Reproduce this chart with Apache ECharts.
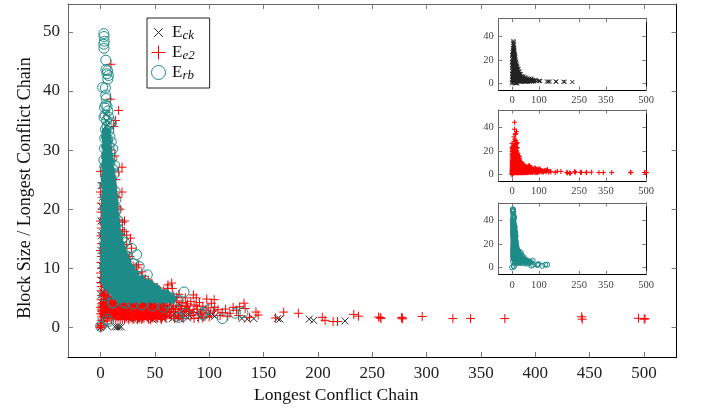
<!DOCTYPE html>
<html><head><meta charset="utf-8">
<style>html,body{margin:0;background:#fff}#c{width:710px;height:409px}</style>
<script src="https://cdn.jsdelivr.net/npm/echarts@6/dist/echarts.min.js"></script>
</head><body><div id="c"></div>
<script>
const mainXTicks=[0,50,100,150,200,250,300,350,400,450,500];
const mainYTicks=[0,10,20,30,40,50];
const insetXTicks=[0,100,250,350,500];
const insetYTicks=[0,20,40];
const xTitle='Longest Conflict Chain';
const yTitle='Block Size / Longest Conflict Chain';

const eck=[[5,36],[5.6,35],[4.6,34],[6.4,33],[5.2,32],[6.8,31],[4,30],[7.4,29],[5,28.5],[8,27.5],[3.6,27],[6.2,26],[9,25],[3,25],[5,24.5],[7.5,23.5],[10,23],[0.5,24],[4.4,22],[6.5,21.5],[9,21],[12,20],[0.6,20.5],[4,19.5],[7,19],[10,18.5],[14,17.5],[0.4,18],[3.5,17],[6,16.8],[9.5,16],[13,15.5],[17,14.5],[0.5,15.5],[3,14.5],[6,14],[10,13.8],[14,13],[19,12.2],[0.4,13],[3.5,12],[7,11.8],[11,11.2],[16,10.8],[22,10],[0.6,10.5],[4,9.5],[8,9.2],[13,8.8],[19,8.2],[26,7.8],[0.5,8],[3,7],[7,6.8],[12,6.5],[18,6.2],[24,5.8],[32,5.5],[40,5],[0.4,5.5],[5,4.8],[10,4.5],[16,4.2],[22,4],[29,3.8],[36,3.6],[44,3.5],[52,3.2],[60,3],[68,3],[76,2.8],[84,2.6],[0.5,3.2],[4,2.4],[9,2.2],[14,2],[20,1.8],[26,1.6],[32,1.5],[38,2.2],[46,1.8],[54,1.6],[62,2],[70,1.7],[78,2],[88,2.4],[0.6,1],[0,0],[6,0.2],[13,0.1],[15,0.1],[17,0.1],[19,0.1],[24,2.4],[28,1.4],[33,1.6],[36,1.4],[41,1.5],[44,1.9],[48,1.3],[50,1.5],[58,1.4],[66,1.5],[73,1.5],[80,1.6],[92,1.7],[100,2],[103,2.2],[105,1.9],[130,1.5],[135,1.4],[141,1.5],[163,1.5],[165,1.4],[192,1.4],[196,1.2],[225,1.1],
[6,30],[4,28],[7,28],[3,26],[5,26],[8,26],[2,24],[6,24],[8,24],[11,24],[2,22],[6,22],[9,22],[12,22],[3,20],[6,20],[9,20],[13,20],[2,18],[5,18],[8,18],[12,18],[15,18],[2,16],[5,16],[8,16],[11,16],[15,16],[18,16],[2,14],[5,14],[8,14],[12,14],[16,14],[20,14],[2,12],[5,12],[9,12],[13,12],[17,12],[21,12],[24,12],[2,10],[6,10],[10,10],[14,10],[18,10],[24,10],[28,10],[2,8],[6,8],[10,8],[15,8],[20,8],[24,8],[29,8],[33,8],[2,6],[6,6],[10,6],[14,6],[20,6],[26,6],[30,6],[36,6],[42,6],[3,5],[8,5],[13,5],[19,5],[26,5],[34,5],[38,5],[46,5],[52,5],[2,4],[7,4],[13,4],[19,4],[26,4],[33,4],[40,4],[48,4],[56,4],[64,4],[72,4],[3,3],[7,3],[12,3],[18,3],[24,3],[32,3],[40,3],[48,3],[56,3],[64,3],[72,3],[80,3],[3,2],[7,2],[12,2],[18,2],[24,2],[30,2],[36,2],[42,2],[50,2],[58,2],[66,2],[74,2],[82,2]];

const ee2=[[9.5,44.5],[9,38.6],[16.6,36.7],[13.6,35],[12,34],[7,32],[10,30],[13,29],[8,28],[19.7,27.1],[16.6,26.3],[0,26.4],[14,25],[5,25],[11,24],[19.7,22.9],[0,22.9],[16,22],[1,21],[18,20],[0.5,19.5],[14,19],[22,18],[0,18],[1,16.8],[20,16.5],[0.4,15.5],[24,15.6],[27.6,15.1],[1,14.2],[17,14],[28.5,13.4],[0,13],[22,12.8],[1,12],[26,11.6],[0.3,11],[35,10.6],[30,10.4],[1.2,10],[0,9.2],[33,9.2],[38,8.6],[1,8.4],[44,8],[0.2,7.6],[47,7.4],[65.4,7.5],[62,7.2],[1,6.9],[52,6.8],[61.4,6.6],[66,6.6],[58,6.2],[0.5,6.2],[3,5.6],[3.4,5.5],[3.8,5.4],[2.6,5.3],[1,5.4],[50,6.6],[50.6,6.5],[49.5,6.4],[62,5.7],[72,5.6],[85.4,5.5],[67,5.2],[78,5],[88,5],[97.7,4.8],[104.5,4.7],[0.5,4.7],[5,4.6],[9,4.4],[13,4.6],[17,4.4],[21,4.5],[25,4.4],[29,4.6],[33,4.3],[37,4.4],[41,4.5],[45,4.2],[49,4.4],[53,4.6],[57,4.3],[61,4.5],[65,4.3],[70,4.5],[75,4.2],[83,4.4],[91,4.2],[102,4.1],[132,4.1],[1,4],[3,3.9],[7,4],[11,3.8],[15,4],[19,3.8],[23,3.9],[27,4],[31,3.8],[35,3.9],[39,3.7],[43,3.9],[47,3.7],[51,3.8],[55,3.9],[59,3.7],[63,3.8],[67,3.6],[72,3.7],[79,3.6],[86,3.8],[94,3.6],[105,3.4],[122,3.4],[133,3.2],[128,3.5],[0,3.4],[2,3.4],[5,3.3],[9,3.4],[13,3.2],[17,3.4],[21,3.2],[25,3.4],[29,3.2],[33,3.4],[37,3.1],[41,3.3],[45,3.1],[49,3.3],[53,3.1],[57,3.3],[61,3.1],[65,3.2],[69,3],[74,3.2],[81,3],[89,3.1],[97,2.9],[108,3],[115,3.1],[125,2.9],[1,2.8],[3,2.9],[7,2.8],[11,2.9],[15,2.7],[19,2.8],[23,2.6],[27,2.8],[31,2.6],[35,2.8],[39,2.6],[43,2.8],[47,2.6],[51,2.7],[55,2.5],[59,2.7],[63,2.5],[67,2.7],[72,2.5],[77,2.7],[85,2.5],[92,2.6],[101,2.4],[112,2.5],[119,2.4],[143,2.6],[0,2.3],[2,2.3],[5,2.3],[9,2.2],[13,2.3],[17,2.1],[21,2.3],[25,2.1],[29,2.2],[33,2],[37,2.2],[41,2],[45,2.2],[49,2],[53,2.2],[57,2],[61,2.1],[65,1.9],[69,2.1],[75,1.9],[83,2],[90,2.1],[96,1.9],[110,2],[117,1.9],[127,2],[145,2.1],[1,1.8],[4,1.7],[8,1.8],[12,1.6],[16,1.7],[20,1.5],[24,1.7],[28,1.6],[32,1.7],[36,1.5],[40,1.6],[44,1.4],[48,1.6],[52,1.5],[60,1.6],[68,1.5],[86,1.5],[94,1.6],[137,1.7],[161,1.6],[168.5,2.6],[182,2.4],[204,1.7],[206.6,1.2],[214,1],[218,1],[233,2.2],[237.4,1.9],[255.9,1.75],[257.4,1.7],[258,1.5],[277.4,1.7],[278,1.45],[277,1.6],[296,1.85],[324.2,1.5],[340.5,1.5],[372,1.5],[442.7,1.8],[443.3,1.4],[495,1.55],[500.3,1.4],[501,1.5],[0,0],[0.4,0.1],[-0.3,0.3],[0.2,-0.1],[1,1.2],[0.5,0.7],[3,1],[6,1.1],
[3,24],[8,24.4],[12,23.6],[2,22],[6,22.4],[10,21.7],[14,22.2],[2,20],[6,20.3],[10,19.8],[15,20.4],[3,18],[7,18.3],[11,17.7],[16,18.2],[20,17.8],[2,16],[6,16.4],[10,15.8],[14,16.2],[18,15.7],[22,16.2],[3,14],[7,14.4],[11,13.8],[15,14.2],[19,13.7],[24,14],[2,12],[6,12.3],[10,11.8],[14,12.2],[18,11.7],[22,12.1],[27,12],[3,10],[7,10.3],[11,9.8],[15,10.2],[19,9.8],[23,10.1],[28,9.9],[33,10.2],[5,9],[9,9.2],[13,8.8],[17,9.1],[21,8.8],[25,9.2],[29,8.9],[34,9.1],[38,9.4],[3,8],[7,8.2],[11,7.8],[15,8.1],[19,7.8],[23,8.2],[27,7.9],[31,8.1],[36,7.8],[41,8.2],[5,7],[9,7.2],[13,6.8],[17,7.1],[21,6.8],[25,7.2],[29,6.9],[33,7.1],[37,6.8],[42,7.1],[46,6.9],[3,6],[7,6.2],[11,5.8],[15,6.1],[19,5.8],[23,6.2],[27,5.9],[31,6.1],[35,5.8],[39,6.1],[44,5.9],[49,6],[55,5.9],[6,5.2],[10,5.3],[14,5],[18,5.2],[22,5],[26,5.3],[30,5.1],[34,5.2],[38,5],[42,5.3],[46,5],[51,5.2],[56,5],[60,5.2],[65,5],[70,5.1],
[2,4.2],[6,4.25],[10,4.1],[14,4.25],[18,4.1],[22,4.2],[26,4.15],[30,4.1],[34,4.2],[38,4.1],[42,4.25],[46,4.1],[50,4.15],[54,4.2],[58,4.1],[3,3.65],[7,3.6],[11,3.45],[15,3.65],[19,3.5],[23,3.65],[27,3.55],[31,3.6],[35,3.5],[39,3.6],[43,3.45],[47,3.55],[51,3.5],[55,3.6],[59,3.45],[1,3.1],[4,3.1],[8,3.15],[12,3],[16,3.15],[20,3],[24,3.1],[28,3],[32,3.15],[36,2.95],[40,3.1],[44,2.95],[48,3.1],[52,2.95],[56,3.1],[60,2.9],[2,2.6],[6,2.6],[10,2.5],[14,2.55],[18,2.5],[22,2.4],[26,2.5],[30,2.45],[34,2.4],[38,2.45],[42,2.4],[46,2.5],[50,2.4],[54,2.45],[58,2.4],[3,2.1],[7,2.05],[11,2],[15,2.05],[19,2],[23,1.95],[27,1.95],[31,1.9],[35,1.8],[39,1.85],[43,1.75],[47,1.85],[51,1.8],[55,1.75],[59,1.8],[6,1.5],[10,1.45],[14,1.4],[18,1.3],[22,1.35],[26,1.3],[30,1.35],[34,1.3],[38,1.35],[46,1.3],[56,1.35],[71,1.8],[74,3.6],[78,3.1],[82,2.8],[88,3.6],[93,2.4],[99,3.3],[104,2.8],[80,4],[76,1.5],[90,1.6],[100,1.8]];

const erbRings=[[3,49.7],[3.2,49.2],[3.4,48.4],[2.9,47.9],[3.1,47.2],[4.8,45.2],[4.9,43.6],[6.4,43.4],[5.8,42.9],[7.2,42.6],[6.6,42],[1.9,40.6],[4.4,40.5],[4.7,39.3],[5.2,38.7],[4.6,37.6],[5.9,37.4],[3.6,37.2],[6.8,36.6],[4.1,35.9],[7.3,35.6],[3.2,35.5],[5.5,35],[10,34.6],[8.4,34.3],[6,34],[4.4,33.5],[7.5,33.2],[8.6,32.3],[3.8,32],[6.4,31.6],[9.8,31.4],[7.8,30.6],[11.2,30.2],[3.6,30.3],[9,29.6],[10.4,28.6],[3,28.3],[8.6,27.8],[13,27.4],[3.8,27.2],[11,26.8],[12.6,26],[13.4,23],[14,21.6],[15,20],[16.4,18],[17.6,16.4],[20,15],[22,14.4],[28.5,13.4],[33.2,12.3],[25,12],[35.5,10.3],[30,10.8],[43,8.9],[40,8],[50,6.6],[53,6],[61,4.1],[66,5],[71.5,4.5],[76.8,6],[58,3.4],[48,3.6],[38,3.8],[30,4],[23,4.1],[21,4.3],[10.6,4.1],[12,4.2],[3.4,5.4],[6.2,1.4],[7,1],[0,0.2],[72,1.7],[78,2.4],[94,2.2],[95,2.6],[99.2,3],[112,1.5],[124,2.4],[131,2.5]];

const erbDense=[[5.4,33],[5,32.2],[6,31.4],[5.2,30.6],[6.2,29.8],[5,29],[7,29],[5.6,28.2],[8,28.2],[4.8,27.4],[7.4,27.4],[5.4,26.6],[8.6,26.6],[5,25.8],[9,25.8],[4.6,25],[8,25],[10,25],[4.6,24],[8,24],[10.4,24],[5.2,23],[9,23],[11,23],[4.4,22],[7.6,22],[11.4,22],[5,21],[9,21],[12,21],[4.2,20],[8,20],[12.4,20],[4.8,19],[9,19],[13,19],[4,18],[8,18],[12,18],[13.6,18],[4.6,17],[9,17],[14,17],[3.8,16],[8,16],[12,16],[15,16],[4.4,15],[9,15],[13,15],[16.4,15],[3.6,14],[8,14],[12,14],[16,14],[18,14],[4.2,13],[9,13],[14,13],[19.5,13],[3.6,12],[8,12],[13,12],[18,12],[22,12],[4,11],[9,11],[14,11],[19,11],[24,11],[3.6,10],[8,10],[13,10],[18,10],[23,10],[27,10],[4.4,9],[10,9],[16,9],[22,9],[27,9],[31,9],[4,8],[9,8],[15,8],[21,8],[27,8],[32,8],[37,8],[6,7.2],[12,7.2],[18,7.2],[24,7.2],[30,7.2],[36,7.2],[41,7.2],[45,7.2],[11,6.4],[17,6.4],[23,6.4],[29,6.4],[35,6.4],[41,6.4],[46,6.4],[51,6.4],[14,5.6],[20,5.6],[26,5.6],[32,5.6],[38,5.6],[44,5.6],[50,5.6],[56,5.6],[60,5.6],[18,4.9],[24,4.9],[30,4.9],[36,4.9],[42,4.9],[48,4.9],[54,4.9],[60,4.9],[65,4.9]];

const INK='#2b2b2b',RED='#ff0000',TEAL='#1d8c88';
const CROSS='path://M0 0L10 10M10 0L0 10',PLUS='path://M5 0L5 10M0 5L10 5';
const LEGEND_CROSS='path://M0 0L0 0M3 3L13 13M13 3L3 13M16 16L16 16';
const SERIF='"Liberation Serif",serif';
const stroke=(c,w)=>({color:'transparent',borderColor:c,borderWidth:w,opacity:1});

const grids=[
 {left:68,top:4,width:608.5,height:353,x:[-30,530],y:[-5,54.7],xt:mainXTicks,yt:mainYTicks,main:true},
 {left:498.7,top:18.7,width:147.3,height:71.3,x:[-50,500],y:[-5.7,55],xt:insetXTicks,yt:insetYTicks},
 {left:498.7,top:110,width:147.3,height:71,x:[-50,500],y:[-5.7,55],xt:insetXTicks,yt:insetYTicks},
 {left:498.7,top:203,width:147.3,height:71.3,x:[-50,500],y:[-5.7,55],xt:insetXTicks,yt:insetYTicks}
];
const xAxis=[],yAxis=[];
grids.forEach((g,i)=>{
 const fs=g.main?17:10.5, col=g.main?'#222':'#444', tick=g.main?5:3.5;
 const mk=(pos,vals,range,lab,line)=>({
  type:'value',gridIndex:i,position:pos,min:range[0],max:range[1],scale:true,
  splitLine:{show:false},
  axisLine:{show:true,onZero:false,lineStyle:{color:line,width:1}},
  axisTick:{show:true,inside:true,length:tick,customValues:vals,lineStyle:{color:'#777',width:1}},
  axisLabel:{show:lab,customValues:vals,fontFamily:SERIF,fontSize:fs,color:col,margin:g.main?8:5,hideOverlap:false,showMinLabel:true,showMaxLabel:true}
 });
 const xb=mk('bottom',g.xt,g.x,true,'#000'), yl=mk('left',g.yt,g.y,true,'#666');
 if(g.main){
  Object.assign(xb,{name:xTitle,nameLocation:'middle',nameGap:29,nameMoveOverlap:false,nameTextStyle:{fontFamily:SERIF,fontSize:17.5,color:'#111',padding:[0,72,0,0]}});
  Object.assign(yl,{name:yTitle,nameLocation:'middle',nameGap:34,nameMoveOverlap:false,nameTextStyle:{fontFamily:SERIF,fontSize:18,color:'#111',padding:[0,15,0,0]}});
 }
 xAxis.push(xb,mk('top',g.xt,g.x,false,'#666'));
 yAxis.push(yl,mk('right',g.yt,g.y,false,'#000'));
});
const sc=(name,gi,data,symbol,size,style,z)=>({
 type:'scatter',name,xAxisIndex:gi*2,yAxisIndex:gi*2,data,symbol,symbolSize:size,
 itemStyle:style,z,silent:true,animation:false,clip:false
});
const chart=echarts.init(document.getElementById('c'),null,{renderer:'canvas'});
chart.setOption({
 animation:false,backgroundColor:'#fff',
 grid:grids.map(g=>({left:g.left,top:g.top,width:g.width,height:g.height,z:1})),
 xAxis,yAxis,
 legend:{
  left:147,top:18,orient:'vertical',padding:[6,15,6,4],itemGap:2,itemWidth:17,itemHeight:14,
  borderColor:'#222',borderWidth:1,backgroundColor:'#fff',z:20,selectedMode:false,
  data:[
   {name:'Eck',icon:LEGEND_CROSS,itemStyle:stroke(INK,1)},
   {name:'Ee2',icon:PLUS,itemStyle:stroke(RED,1)},
   {name:'Erb',icon:'circle',itemStyle:stroke(TEAL,1)}
  ],
  formatter:n=>'{e|E}{s|'+n.slice(1)+'}',
  textStyle:{rich:{
   e:{fontFamily:SERIF,fontSize:17,color:'#111'},
   s:{fontFamily:SERIF,fontSize:13,fontStyle:'italic',color:'#111',padding:[6,0,0,0]}
  }}
 },
 series:[
  sc('Eck',0,eck,CROSS,7,stroke(INK,1),2),
  sc('Ee2',0,ee2,PLUS,9,stroke(RED,1),3),
  sc('Erb',0,erbRings,'circle',10,stroke(TEAL,1),5),
  sc('Erb',0,erbDense,'circle',10,{color:TEAL,opacity:1},4),
  sc('Eck',1,eck,CROSS,4,stroke('#222',1),2),
  sc('Ee2',2,ee2,PLUS,5,stroke(RED,1),3),
  sc('Erb',3,erbRings,'circle',5,stroke(TEAL,1),5),
  sc('Erb',3,erbDense,'circle',5.5,{color:TEAL,opacity:1},4)
 ]
});
</script></body></html>
